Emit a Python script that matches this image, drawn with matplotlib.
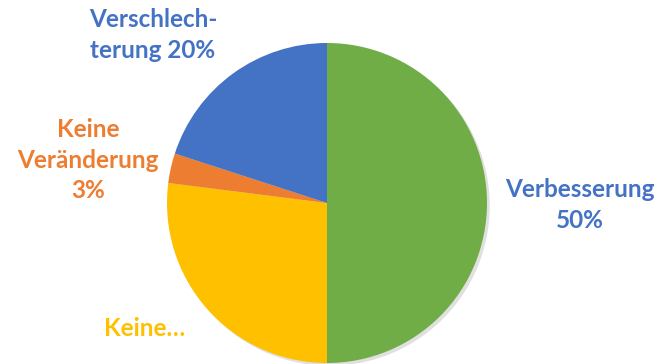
import matplotlib.pyplot as plt
from matplotlib.patches import Shadow

labels = ["Verbesserung\n50%", "Keine…", "Keine\nVeränderung\n3%", "Verschlech-\nterung 20%"]
values = [50, 27, 3, 20]
colors = ["#70AD47", "#FFC000", "#ED7D31", "#4472C4"]
label_colors = ["#4472C4", "#FFC000", "#ED7D31", "#4472C4"]
label_pos = [(580, 205), (145, 328), (88, 160), (153, 35)]

fig = plt.figure(figsize=(6.6, 3.64), dpi=100)
ax = fig.add_axes([0, 0, 1, 1])

wedges, _ = ax.pie(values, colors=colors, startangle=90, counterclock=False,
                   center=(327, 364 - 203), radius=160,
                   wedgeprops=dict(linewidth=0))

for w in wedges:
    s = Shadow(w, 2, -2, alpha=0.12, color="black")
    s.set_zorder(w.get_zorder() - 1)
    ax.add_patch(s)

for lab, c, (x, y) in zip(labels, label_colors, label_pos):
    ax.text(x, 364 - y, lab, color=c, ha="center", va="center",
            fontsize=17.5, fontweight="bold", family="Lato", linespacing=1.4)

ax.set_xlim(0, 660)
ax.set_ylim(0, 364)
ax.set_aspect("equal")
ax.axis("off")

fig.savefig("out.png", dpi=100)
